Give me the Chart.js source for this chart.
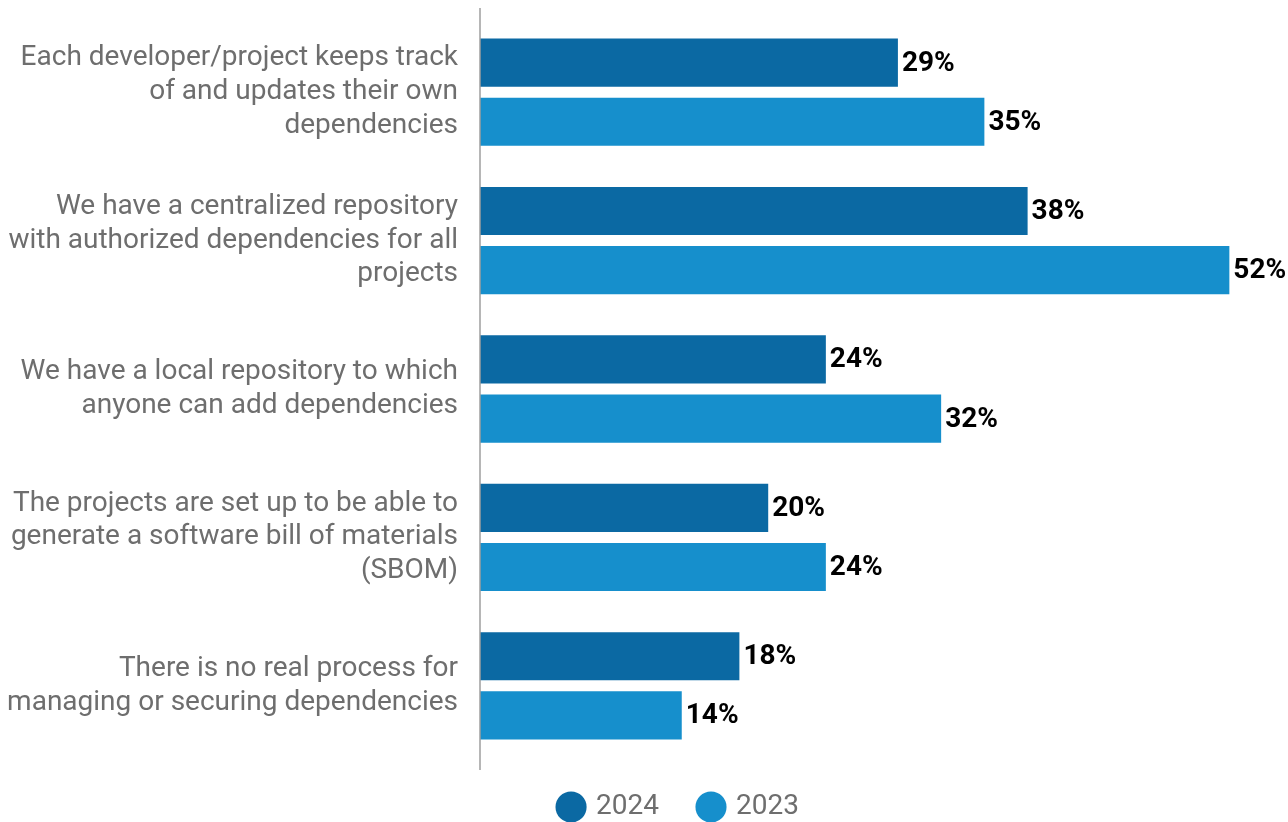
<!DOCTYPE html>
<html lang="en">
<head>
  <meta charset="UTF-8">
  <title>Dependency management practices</title>
  <script src="https://cdn.jsdelivr.net/npm/chart.js"></script>
  <style>
    body {
      margin: 0;
      background: #ffffff;
      font-family: 'Roboto', sans-serif;
    }
    .wrap {
      width: 1288px;
      height: 822px;
    }
  </style>
</head>
<body>
  <div class="wrap">
    <canvas id="chart" width="1288" height="822"></canvas>
  </div>

  <script>
    const categories = [
      ['Each developer/project keeps track', 'of and updates their own', 'dependencies'],
      ['We have a centralized repository', 'with authorized dependencies for all', 'projects'],
      ['We have a local repository to which', 'anyone can add dependencies'],
      ['The projects are set up to be able to', 'generate a software bill of materials', '(SBOM)'],
      ['There is no real process for', 'managing or securing dependencies']
    ];
    const values2024 = [29, 38, 24, 20, 18];
    const values2023 = [35, 52, 32, 24, 14];

    const DARK = '#0b69a3';
    const LIGHT = '#168fcc';
    const GREY = '#6e6e6e';

    // percentage text at the end of each bar + the left axis line
    const barLabels = {
      id: 'barLabels',
      afterLayout(chart) {
        // move the legend under the bars and a bit closer to them
        chart.legend.left += 36;
        chart.legend.right += 36;
        chart.legend.top -= 8;
        chart.legend.bottom -= 8;
      },
      afterDatasetsDraw(chart) {
        const ctx = chart.ctx;
        const area = chart.chartArea;
        ctx.save();
        ctx.strokeStyle = '#9e9e9e';
        ctx.lineWidth = 1.5;
        ctx.beginPath();
        ctx.moveTo(area.left, area.top - 10);
        ctx.lineTo(area.left, area.bottom + 10);
        ctx.stroke();

        ctx.font = 'bold 28px Roboto';
        ctx.fillStyle = '#000000';
        ctx.textAlign = 'left';
        ctx.textBaseline = 'middle';
        chart.data.datasets.forEach((ds, i) => {
          chart.getDatasetMeta(i).data.forEach((bar, j) => {
            ctx.fillText(ds.data[j] + '%', bar.x + 4, bar.y + 1);
          });
        });
        ctx.restore();
      }
    };

    new Chart(document.getElementById('chart'), {
      type: 'bar',
      data: {
        labels: categories,
        datasets: [
          {
            label: '2024',
            data: values2024,
            backgroundColor: DARK,
            categoryPercentage: 0.797,
            barPercentage: 0.8136
          },
          {
            label: '2023',
            data: values2023,
            backgroundColor: LIGHT,
            categoryPercentage: 0.797,
            barPercentage: 0.8136
          }
        ]
      },
      options: {
        indexAxis: 'y',
        responsive: false,
        animation: false,
        layout: { padding: { top: 18, right: 1, left: 0, bottom: -17 } },
        scales: {
          x: {
            display: false,
            min: 0,
            max: 56
          },
          y: {
            grid: { display: false, drawTicks: false },
            border: { display: false },
            ticks: {
              color: GREY,
              padding: 22,
              font: { family: 'Roboto', size: 28, lineHeight: 1.21 }
            },
            afterFit(scale) {
              scale.width = 480;
              scale.paddingTop = 0;
              scale.paddingBottom = 0;
            }
          }
        },
        plugins: {
          legend: {
            position: 'bottom',
            labels: {
              usePointStyle: true,
              pointStyle: 'circle',
              boxWidth: 22,
              boxHeight: 22,
              padding: 41,
              color: GREY,
              font: { family: 'Roboto', size: 28 }
            }
          },
          tooltip: { enabled: false }
        }
      },
      plugins: [barLabels]
    });
  </script>
</body>
</html>
